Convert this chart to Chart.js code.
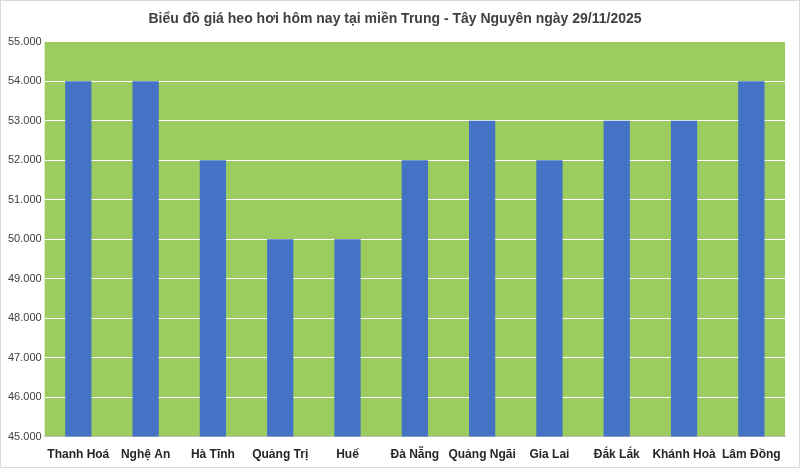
<!DOCTYPE html>
<html>
<head>
<meta charset="utf-8">
<script src="https://cdn.jsdelivr.net/npm/chart.js@4"></script>
<style>
  html, body { margin: 0; padding: 0; background: #fff; }
  .wrap { width: 798px; height: 466px; border: 1px solid #d9d9d9; }
</style>
</head>
<body>
<div class="wrap"><canvas id="chart"></canvas></div>
<script>
const provinces = ['Thanh Hoá', 'Nghệ An', 'Hà Tĩnh', 'Quảng Trị', 'Huế', 'Đà Nẵng', 'Quảng Ngãi', 'Gia Lai', 'Đắk Lắk', 'Khánh Hoà', 'Lâm Đồng'];
const prices = [54000, 54000, 52000, 50000, 50000, 52000, 53000, 52000, 53000, 53000, 54000];
const chartTitle = 'Biểu đồ giá heo hơi hôm nay tại miền Trung - Tây Nguyên ngày 29/11/2025';

const formatPrice = (value) => String(Math.round(value)).replace(/\B(?=(\d{3})+(?!\d))/g, '.');

const plotBackground = {
    id: 'plotBackground',
    beforeDraw: (chart) => {
        const { ctx, chartArea } = chart;
        ctx.save();
        ctx.fillStyle = '#9ccc5f';
        ctx.fillRect(chartArea.left, chartArea.top, chartArea.right - chartArea.left, chartArea.bottom - chartArea.top);
        ctx.restore();
    },
};

new Chart(document.getElementById('chart'), {
    type: 'bar',
    data: {
        labels: provinces,
        datasets: [{
            data: prices,
            backgroundColor: '#4472c4',
            categoryPercentage: 1,
            barPercentage: 0.39,
        }],
    },
    options: {
        responsive: true,
        maintainAspectRatio: false,
        animation: false,
        layout: { padding: { left: 4, right: 14, top: 4, bottom: 2 } },
        plugins: {
            legend: { display: false },
            tooltip: { enabled: false },
            title: {
                display: true,
                text: chartTitle,
                color: '#404040',
                font: { family: 'Liberation Sans', size: 14, weight: 'bold' },
                padding: { top: 6, bottom: 14 },
            },
        },
        scales: {
            y: {
                min: 45000,
                max: 55000,
                ticks: {
                    stepSize: 1000,
                    color: '#404040',
                    font: { family: 'Liberation Sans', size: 11 },
                    callback: (value) => formatPrice(value),
                },
                grid: { color: '#ffffff', lineWidth: 1, drawTicks: false },
                border: { display: false },
            },
            x: {
                ticks: {
                    color: '#262626',
                    font: { family: 'Liberation Sans', size: 12, weight: 'bold' },
                    maxRotation: 0,
                    autoSkip: false,
                },
                grid: { display: false },
                border: { color: '#bfbfbf' },
            },
        },
    },
    plugins: [plotBackground],
});
</script>
</body>
</html>
